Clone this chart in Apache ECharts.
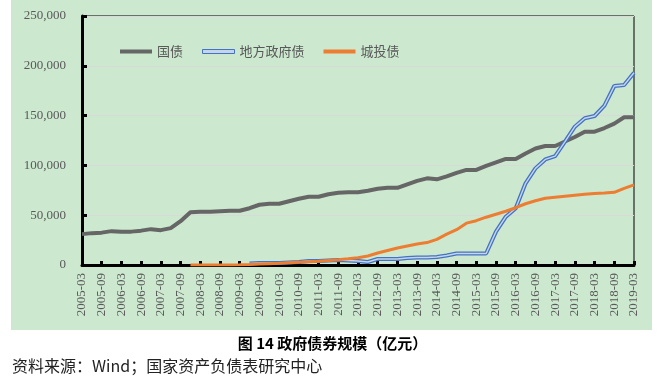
<!DOCTYPE html>
<html><head><meta charset="utf-8">
<script src="https://cdn.jsdelivr.net/npm/echarts@6/dist/echarts.min.js"></script>
<style>html,body{margin:0;padding:0;background:#fff}#c{width:665px;height:384px}</style>
</head><body><div id="c"></div>
<script>
var categories = [
'2005-03','2005-06','2005-09','2005-12','2006-03','2006-06','2006-09','2006-12',
'2007-03','2007-06','2007-09','2007-12','2008-03','2008-06','2008-09','2008-12',
'2009-03','2009-06','2009-09','2009-12','2010-03','2010-06','2010-09','2010-12',
'2011-03','2011-06','2011-09','2011-12','2012-03','2012-06','2012-09','2012-12',
'2013-03','2013-06','2013-09','2013-12','2014-03','2014-06','2014-09','2014-12',
'2015-03','2015-06','2015-09','2015-12','2016-03','2016-06','2016-09','2016-12',
'2017-03','2017-06','2017-09','2017-12','2018-03','2018-06','2018-09','2018-12',
'2019-03'];
var guozhai = [31000,32000,32500,34000,33500,33500,34500,36000,35000,37000,44000,53000,
53500,53500,54000,54500,54500,57000,60500,61500,61500,64000,66500,68500,68500,71000,
72500,73000,73000,74500,76500,77500,77500,81000,84500,87000,86000,89000,92500,95500,
95500,99500,103000,106500,106500,112000,117000,119500,119500,124000,128500,133800,
133800,137500,142000,148300,148300];
var difang = [null,null,null,null,null,null,null,null,null,null,null,null,null,null,null,null,
null,1500,2000,2000,2000,2500,3000,4000,4000,4500,5000,4500,4000,3000,6000,6000,6000,
7000,7500,7500,8000,9500,11500,11500,11500,11500,33500,48500,57000,82000,97000,106000,
109400,123800,138900,147300,149600,160000,179700,180700,193000];
var chengtou = [null,null,null,null,null,null,null,null,null,null,null,0,0,0,0,0,200,500,
900,1300,1700,2200,2700,3200,3800,4500,5300,6200,7300,9000,12000,14500,17000,19000,21000,
22500,25800,31000,35500,42000,44500,48000,51000,54000,57500,61500,64500,67000,68000,69000,
70000,71000,71800,72300,73000,77000,80500];
var yTicks = [0,50000,100000,150000,200000,250000];
var seriesNames = ['国债','地方政府债','城投债'];
var titleText = '图 14 政府债券规模（亿元）';
var sourceText = '资料来源：Wind；国家资产负债表研究中心';

var chart = echarts.init(document.getElementById('c'), null, {renderer:'canvas'});
var serif = '"Liberation Serif","Times New Roman",serif';
var cjk = '"Noto Sans CJK SC",sans-serif';
chart.setOption({
  animation:false,
  backgroundColor:'#ffffff',
  graphic:[
    {type:'rect', z:-10, shape:{x:11,y:0,width:641,height:330}, style:{fill:'#CCE8CF'}},
    {type:'text', left:'center', top:336, style:{text:titleText, font:'bold 15px '+cjk, fill:'#000'}},
    {type:'text', left:12, top:358, style:{text:sourceText, font:'16px '+cjk, fill:'#222'}}
  ],
  grid:{left:82,right:31,top:16,bottom:119,show:true,borderColor:'#000',borderWidth:1,backgroundColor:'transparent'},
  legend:{
    left:115, top:40, itemWidth:32, itemHeight:4, itemGap:19,
    textStyle:{fontFamily:cjk,fontSize:13,color:'#595959'},
    data:[
      {name:seriesNames[0], icon:'rect', itemStyle:{color:'#666666'}},
      {name:seriesNames[1], icon:'rect', itemStyle:{color:'#C5D5EA',borderColor:'#4472C4',borderWidth:1}},
      {name:seriesNames[2], icon:'rect', itemStyle:{color:'#ED7D31'}}
    ]
  },
  xAxis:{
    type:'category', boundaryGap:false, data:categories,
    axisLine:{lineStyle:{color:'#000',width:3}},
    axisTick:{inside:true, interval:1, length:4, lineStyle:{color:'#000',width:3}},
    axisLabel:{interval:1, rotate:90, fontFamily:serif, fontSize:13, color:'#595959', margin:8},
    splitLine:{show:false}
  },
  yAxis:{
    type:'value', min:yTicks[0], max:yTicks[yTicks.length-1], interval:50000,
    axisLine:{show:true, lineStyle:{color:'#000',width:3}},
    axisTick:{show:true, inside:true, length:5, lineStyle:{color:'#000',width:3}},
    axisLabel:{fontFamily:serif, fontSize:13, color:'#595959', margin:16,
      formatter:function(v){return v.toString().replace(/\B(?=(\d{3})+(?!\d))/g, ',');}},
    splitLine:{lineStyle:{color:'#D9D9D9',width:1}}
  },
  series:[
    {name:seriesNames[0], type:'line', data:guozhai, showSymbol:false, symbol:'none',
      lineStyle:{color:'#666666',width:4}, itemStyle:{color:'#666666'}},
    {name:seriesNames[1], type:'line', data:difang, showSymbol:false, symbol:'none',
      lineStyle:{color:'#4472C4',width:4}, itemStyle:{color:'#4472C4'}},
    {name:'difang_inner', type:'line', data:difang, showSymbol:false, symbol:'none',
      lineStyle:{color:'#C5D5EA',width:1.4}, itemStyle:{color:'#C5D5EA'}},
    {name:seriesNames[2], type:'line', data:chengtou, showSymbol:false, symbol:'none',
      lineStyle:{color:'#ED7D31',width:3}, itemStyle:{color:'#ED7D31'}}
  ]
});
</script></body></html>
